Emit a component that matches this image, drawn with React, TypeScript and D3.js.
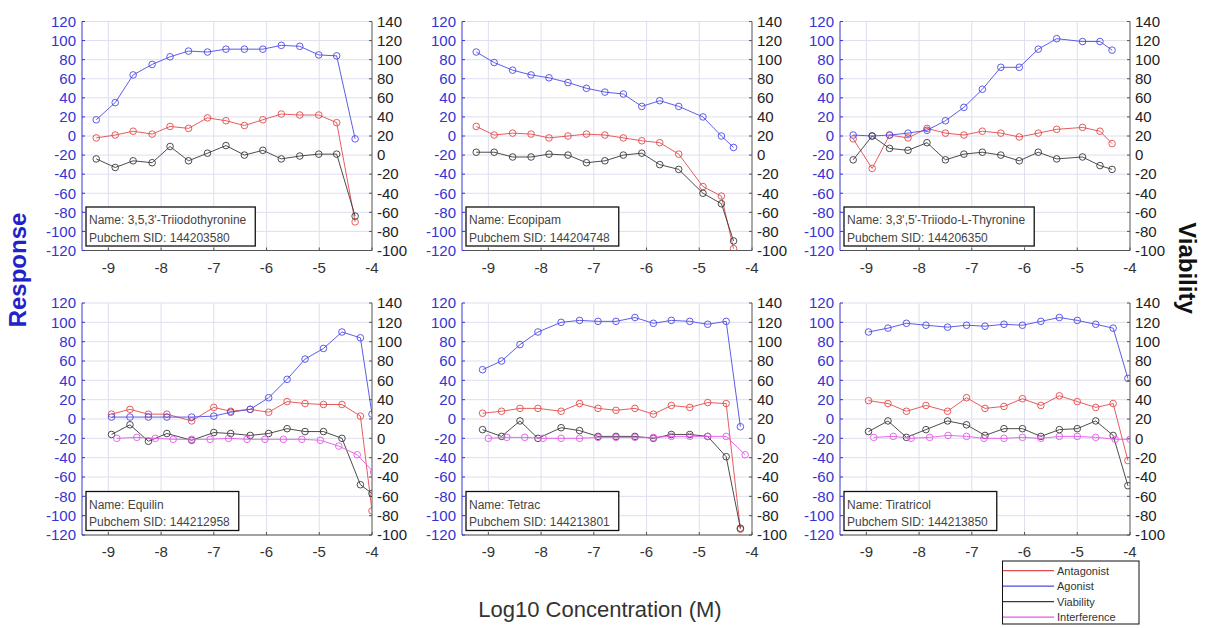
import React, { useRef, useEffect } from 'react';
import * as d3 from 'd3';

// compound info
const names = ["3,5,3'-Triiodothyronine", 'Ecopipam', "3,3',5'-Triiodo-L-Thyronine", 'Equilin', 'Tetrac', 'Tiratricol'];
const sids = ['144203580', '144204748', '144206350', '144212958', '144213801', '144213850'];

// log10 concentrations per panel
const conc1 = [-9.23, -8.87, -8.53, -8.17, -7.83, -7.48, -7.12, -6.77, -6.42, -6.07, -5.72, -5.37, -5.01, -4.67, -4.32];
const conc2 = [-9.23, -8.89, -8.54, -8.19, -7.85, -7.49, -7.14, -6.79, -6.44, -6.09, -5.75, -5.39, -4.93, -4.58, -4.35];
const conc3 = [-9.25, -8.89, -8.56, -8.21, -7.85, -7.5, -7.15, -6.8, -6.45, -6.1, -5.74, -5.39, -4.9, -4.57, -4.34];
const conc4 = [-8.94, -8.59, -8.24, -7.89, -7.42, -7.0, -6.68, -6.31, -5.96, -5.61, -5.27, -4.92, -4.57, -4.22, -4.0];
const conc5 = [-9.11, -8.75, -8.4, -8.06, -7.62, -7.27, -6.92, -6.58, -6.22, -5.87, -5.53, -5.18, -4.84, -4.49, -4.22];
const conc6 = [-8.96, -8.59, -8.24, -7.87, -7.46, -7.1, -6.75, -6.39, -6.04, -5.69, -5.34, -5.0, -4.65, -4.32, -4.04];

// response (left axis)
const agonist1 = [17, 35, 64, 75, 83, 89, 88, 91, 91, 91, 95, 94, 85, 84, -3];
const antagonist1 = [-2, 1, 5, 2, 10, 8, 19, 16, 11, 17, 23, 22, 22, 14, -90];
const agonist2 = [88, 77, 69, 64, 61, 56, 50, 46, 44, 31, 37, 31, 20, 0, -12];
const antagonist2 = [10, 1, 3, 2, -2, 0, 2, 1, -2, -5, -7, -19, -53, -63, -118];
const agonist3 = [1, 0, 1, 3, 6, 16, 30, 49, 72, 72, 91, 102, 99, 99, 90];
const antagonist3 = [-3, -34, 1, -2, 8, 3, 1, 5, 3, -1, 3, 7, 9, 5, -8];
const agonist4 = [2, 2, 2, 2, 2, 3, 7, 10, 22, 41, 62, 73, 90, 84, 5];
const antagonist4 = [5, 10, 5, 5, -2, 12, 8, 10, 7, 18, 16, 15, 15, 3, -95];
const agonist5 = [51, 60, 77, 90, 100, 102, 101, 101, 105, 99, 102, 101, 98, 101, -8];
const antagonist5 = [6, 8, 11, 11, 8, 16, 11, 9, 11, 5, 14, 12, 17, 16, -114];
const agonist6 = [90, 94, 99, 97, 95, 97, 96, 98, 97, 101, 105, 102, 98, 94, 42];
const antagonist6 = [19, 16, 8, 14, 8, 22, 11, 13, 21, 14, 24, 18, 12, 16, -43];

// viability (right axis)
const viability1 = [-4, -13, -6, -8, 9, -6, 2, 10, 0, 5, -4, -1, 1, 1, -64];
const viability2 = [3, 3, -2, -2, 1, 0, -8, -6, 0, 2, -10, -15, -40, -51, -90];
const viability3 = [-5, 20, 7, 5, 13, -5, 1, 3, 0, -6, 3, -4, -2, -11, -15];
const viability4 = [4, 14, -3, 5, -2, 6, 5, 3, 5, 10, 7, 7, 0, -48, -57];
const viability5 = [9, 2, 18, 0, 11, 8, 2, 2, 2, 0, 4, 4, 2, -19, -93];
const viability6 = [7, 18, 1, 9, 18, 14, 3, 10, 10, 2, 9, 10, 18, 3, -49];

// interference (right axis), only bottom row
const interfConc4 = [-8.84, -8.46, -8.11, -7.77, -7.42, -7.07, -6.72, -6.37, -6.03, -5.68, -5.33, -4.98, -4.63, -4.28, -3.97];
const interference4 = [0, 1, 0, -1, -1, -1, 0, -1, -1, -1, -1, -2, -8, -17, -35];
const interfConc5 = [-9.0, -8.65, -8.31, -7.96, -7.62, -7.27, -6.92, -6.58, -6.22, -5.87, -5.53, -5.18, -4.84, -4.49, -4.13];
const interference5 = [0, 1, 1, 0, 0, 0, 1, 1, 1, 1, 2, 2, 2, 2, -17];
const interfConc6 = [-8.86, -8.49, -8.15, -7.8, -7.45, -7.1, -6.77, -6.39, -6.04, -5.69, -5.34, -5.0, -4.65, -4.28, -4.0];
const interference6 = [1, 2, 0, 1, 3, 2, 0, 0, 1, 0, 2, 2, 1, -1, -1];

const xTicks = [-9, -8, -7, -6, -5, -4];
const leftTicks = [120, 100, 80, 60, 40, 20, 0, -20, -40, -60, -80, -100, -120];
const rightTicks = [140, 120, 100, 80, 60, 40, 20, 0, -20, -40, -60, -80, -100];
const legendLabels = ['Antagonist', 'Agonist', 'Viability', 'Interference'];

const RED = '#e24b4b';
const BLUE = '#4b4be6';
const BLACK = '#3a3a3a';
const MAGENTA = '#e45ae4';
const AXBLUE = '#3434d6';
const GRID = '#dedef0';
const FONT = '"Liberation Sans", Arial, sans-serif';

const panels = [
  { conc: conc1, ag: agonist1, ant: antagonist1, via: viability1, iConc: null, inter: null },
  { conc: conc2, ag: agonist2, ant: antagonist2, via: viability2, iConc: null, inter: null },
  { conc: conc3, ag: agonist3, ant: antagonist3, via: viability3, iConc: null, inter: null },
  { conc: conc4, ag: agonist4, ant: antagonist4, via: viability4, iConc: interfConc4, inter: interference4 },
  { conc: conc5, ag: agonist5, ant: antagonist5, via: viability5, iConc: interfConc5, inter: interference5 },
  { conc: conc6, ag: agonist6, ant: antagonist6, via: viability6, iConc: interfConc6, inter: interference6 },
];

const colLeft = [82, 462, 840];
const rowTop = [21.5, 303];
const rowH = [229, 232];
const plotW = 290;

export default function App() {
  const ref = useRef<SVGSVGElement>(null);

  useEffect(() => {
    const svg = d3.select(ref.current);
    svg.selectAll('*').remove();
    svg.attr('font-family', FONT);

    panels.forEach((p, i) => {
      const left = colLeft[i % 3];
      const top = rowTop[Math.floor(i / 3)];
      const h = rowH[Math.floor(i / 3)];
      const x = d3.scaleLinear().domain([-9.5, -4]).range([left, left + plotW]);
      const yL = d3.scaleLinear().domain([-120, 120]).range([top + h, top]);
      const yR = d3.scaleLinear().domain([-100, 140]).range([top + h, top]);
      const bottom = top + h;
      const right = left + plotW;
      const g = svg.append('g');

      // grid
      g.selectAll('.gx').data(xTicks.slice(0, -1)).join('line')
        .attr('x1', d => x(d)).attr('x2', d => x(d)).attr('y1', top).attr('y2', bottom)
        .attr('stroke', GRID).attr('stroke-width', 1);
      g.selectAll('.gy').data(leftTicks).join('line')
        .attr('x1', left).attr('x2', right).attr('y1', d => yL(d)).attr('y2', d => yL(d))
        .attr('stroke', GRID).attr('stroke-width', 1);

      // axes lines
      g.append('line').attr('x1', left).attr('x2', left).attr('y1', top).attr('y2', bottom)
        .attr('stroke', AXBLUE).attr('stroke-width', 1);
      g.append('line').attr('x1', right).attr('x2', right).attr('y1', top).attr('y2', bottom)
        .attr('stroke', '#555').attr('stroke-width', 1);
      g.append('line').attr('x1', left).attr('x2', right).attr('y1', bottom).attr('y2', bottom)
        .attr('stroke', '#555').attr('stroke-width', 1);

      // ticks
      g.selectAll('.tl').data(leftTicks).join('line')
        .attr('x1', left).attr('x2', left + 3).attr('y1', d => yL(d)).attr('y2', d => yL(d))
        .attr('stroke', AXBLUE);
      g.selectAll('.tr').data(rightTicks).join('line')
        .attr('x1', right - 3).attr('x2', right).attr('y1', d => yR(d)).attr('y2', d => yR(d))
        .attr('stroke', '#555');
      g.selectAll('.tb').data(xTicks).join('line')
        .attr('x1', d => x(d)).attr('x2', d => x(d)).attr('y1', bottom).attr('y2', bottom - 3)
        .attr('stroke', '#555');

      // tick labels
      g.selectAll('.ll').data(leftTicks).join('text')
        .attr('x', left - 6).attr('y', d => yL(d)).attr('dy', '0.35em')
        .attr('text-anchor', 'end').attr('font-size', 15).attr('fill', AXBLUE)
        .text(d => d);
      g.selectAll('.lr').data(rightTicks).join('text')
        .attr('x', right + 5).attr('y', d => yR(d)).attr('dy', '0.35em')
        .attr('text-anchor', 'start').attr('font-size', 15).attr('fill', '#222')
        .text(d => d);
      g.selectAll('.lb').data(xTicks).join('text')
        .attr('x', d => x(d)).attr('y', bottom + 17).attr('dy', '0.35em')
        .attr('text-anchor', 'middle').attr('font-size', 15).attr('fill', '#333')
        .text(d => d);

      // clip
      const clipId = `clip${i}`;
      svg.append('clipPath').attr('id', clipId).append('rect')
        .attr('x', left).attr('y', top).attr('width', plotW).attr('height', h);
      const data = g.append('g').attr('clip-path', `url(#${clipId})`);

      const series: [number[], number[], any, string][] = [
        [p.conc, p.ant, yL, RED],
        [p.conc, p.ag, yL, BLUE],
        [p.conc, p.via, yR, BLACK],
      ];
      if (p.iConc && p.inter) series.push([p.iConc, p.inter, yR, MAGENTA]);

      series.forEach(([xs, ys, ys_scale, color]) => {
        const pts = xs.map((c, k) => [x(c), ys_scale(ys[k])] as [number, number]);
        data.append('path').attr('d', d3.line()(pts))
          .attr('fill', 'none').attr('stroke', color).attr('stroke-width', 1).attr('opacity', 0.9);
        data.selectAll(null).data(pts).join('circle')
          .attr('cx', d => d[0]).attr('cy', d => d[1]).attr('r', 3.3)
          .attr('fill', 'none').attr('stroke', color).attr('stroke-width', 1).attr('opacity', 0.9);
      });

      // info box
      const box = g.append('g');
      const rect = box.append('rect');
      const t1 = box.append('text').attr('x', left + 7).attr('y', bottom - 26.5)
        .attr('font-size', 12).attr('fill', '#444').text(`Name: ${names[i]}`);
      const t2 = box.append('text').attr('x', left + 7).attr('y', bottom - 9)
        .attr('font-size', 12).attr('fill', '#444').text(`Pubchem SID: ${sids[i]}`);
      const tw = Math.max(
        (t1.node() as SVGTextElement).getComputedTextLength(),
        (t2.node() as SVGTextElement).getComputedTextLength()
      );
      rect.attr('x', left + 4).attr('y', bottom - 43.5).attr('width', tw + 12).attr('height', 39)
        .attr('fill', 'white').attr('stroke', '#111').attr('stroke-width', 1.3);
    });

    // axis titles
    svg.append('text')
      .attr('transform', 'translate(18,270) rotate(-90)')
      .attr('dy', '0.35em').attr('text-anchor', 'middle')
      .attr('font-size', 24).attr('font-weight', 'bold').attr('fill', '#2222cc')
      .text('Response');
    svg.append('text')
      .attr('transform', 'translate(1187,268) rotate(90)')
      .attr('dy', '0.35em').attr('text-anchor', 'middle')
      .attr('font-size', 24).attr('font-weight', 'bold').attr('fill', '#111')
      .text('Viability');
    svg.append('text')
      .attr('x', 600).attr('y', 617).attr('text-anchor', 'middle')
      .attr('font-size', 22).attr('fill', '#333')
      .text('Log10 Concentration (M)');

    // legend
    const colors = [RED, BLUE, BLACK, MAGENTA];
    const lg = svg.append('g');
    lg.append('rect').attr('x', 1002.5).attr('y', 561).attr('width', 136.5).attr('height', 63)
      .attr('fill', 'white').attr('stroke', '#111').attr('stroke-width', 1);
    legendLabels.forEach((lab, k) => {
      const yy = 570.7 + k * 15.5;
      lg.append('line').attr('x1', 1003).attr('x2', 1054).attr('y1', yy).attr('y2', yy)
        .attr('stroke', colors[k]).attr('stroke-width', 1.2);
      lg.append('text').attr('x', 1057).attr('y', yy).attr('dy', '0.35em')
        .attr('font-size', 11).attr('fill', '#333').text(lab);
    });
  }, []);

  return (
    <svg
      ref={ref}
      width={1212}
      height={628}
      style={{ position: 'absolute', left: 0, top: 0, background: 'white' }}
    />
  );
}
